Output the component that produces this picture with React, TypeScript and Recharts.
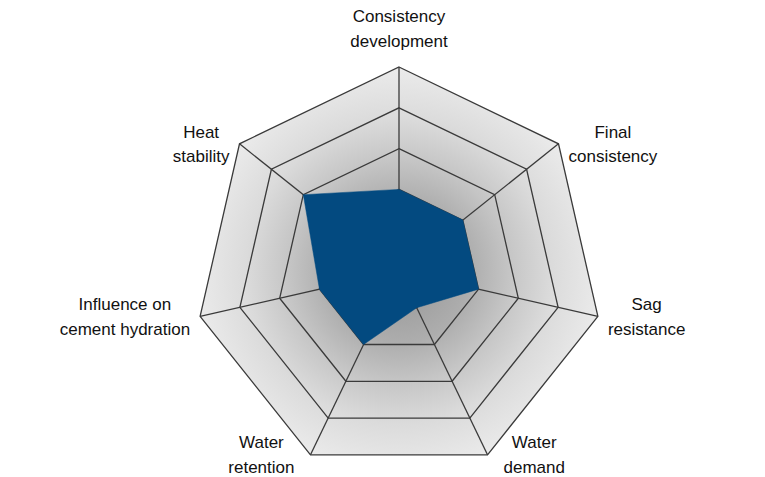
import React from 'react';
import { RadarChart, Radar, PolarGrid, PolarAngleAxis, PolarRadiusAxis } from 'recharts';

// axes run clockwise from the top
const categories = [
  'Consistency development',
  'Final consistency',
  'Sag resistance',
  'Water demand',
  'Water retention',
  'Influence on cement hydration',
  'Heat stability',
];

const tickLines = [
  ['Consistency', 'development'],
  ['Final', 'consistency'],
  ['Sag', 'resistance'],
  ['Water', 'demand'],
  ['Water', 'retention'],
  ['Influence on', 'cement hydration'],
  ['Heat', 'stability'],
];

const scores = [2, 2, 2, 1, 2, 2, 3];

const maxLevel = 5;

const data = categories.map((name, i) => ({
  subject: name,
  score: scores[i],
  full: maxLevel,
}));

const W = 765;
const H = 477;
const CX = 399;
const CY = 271;
const R = 204;
const FONT = '17px "Liberation Sans", Arial, sans-serif';

let ctx: CanvasRenderingContext2D | null = null;
const textWidth = (s: string) => {
  if (!ctx) {
    ctx = document.createElement('canvas').getContext('2d');
  }
  if (!ctx) return s.length * 8.5;
  ctx.font = FONT;
  return ctx.measureText(s).width;
};

const AxisLabel = (props: any) => {
  const { payload, index } = props;
  const lines = tickLines[index] ?? [payload.value];
  const rad = (payload.coordinate * Math.PI) / 180;
  const ux = Math.cos(rad);
  const uy = -Math.sin(rad);
  const vx = CX + R * ux;
  const vy = CY + R * uy;
  const lh = 24.6;
  let bx = vx;
  let b1 = vy - 6.3;
  if (Math.abs(ux) < 0.1) {
    // top label sits above the vertex
    b1 = vy - 20 - lh;
  } else {
    const w = Math.max(...lines.map(textWidth));
    const gap = uy > 0.8 ? 16 : 10;
    bx = vx + Math.sign(ux) * (gap + w / 2);
  }
  return (
    <text textAnchor="middle" fill="#111" style={{ font: FONT }}>
      {lines.map((l: string, i: number) => (
        <tspan key={i} x={bx} y={b1 + i * lh}>
          {l}
        </tspan>
      ))}
    </text>
  );
};

const chartProps = {
  width: W,
  height: H,
  cx: CX,
  cy: CY,
  outerRadius: R,
  data,
  margin: { top: 0, right: 0, bottom: 0, left: 0 },
};

export default function App() {
  return (
    <div style={{ position: 'absolute', left: 0, top: 0, width: W, height: H, background: '#fff' }}>
      {/* shaded web behind, drawn as its own chart so the grid lines stay on top */}
      <div style={{ position: 'absolute', left: 0, top: 0 }}>
        <RadarChart {...chartProps}>
          <defs>
            <radialGradient id="bgShade" gradientUnits="userSpaceOnUse" cx={CX} cy={CY} r={R}>
              <stop offset="0%" stopColor="#939393" />
              <stop offset="35%" stopColor="#adadad" />
              <stop offset="55%" stopColor="#c6c6c6" />
              <stop offset="75%" stopColor="#dbdbdb" />
              <stop offset="100%" stopColor="#ebebeb" />
            </radialGradient>
          </defs>
          <PolarRadiusAxis domain={[0, maxLevel]} tickCount={maxLevel + 1} axisLine={false} tick={false} />
          <PolarAngleAxis dataKey="subject" tick={false} tickLine={false} axisLine={false} />
          <Radar dataKey="full" fill="url(#bgShade)" fillOpacity={1} stroke="none" isAnimationActive={false} />
        </RadarChart>
      </div>
      <div style={{ position: 'absolute', left: 0, top: 0 }}>
        <RadarChart {...chartProps}>
          <PolarRadiusAxis domain={[0, maxLevel]} tickCount={maxLevel + 1} axisLine={false} tick={false} />
          <PolarGrid gridType="polygon" stroke="#3a3a3a" strokeWidth={1.3} />
          <PolarAngleAxis dataKey="subject" tick={<AxisLabel />} tickLine={false} axisLine={false} />
          <Radar
            dataKey="score"
            fill="#034a80"
            fillOpacity={1}
            stroke="#034a80"
            strokeWidth={0.5}
            isAnimationActive={false}
          />
        </RadarChart>
      </div>
    </div>
  );
}
